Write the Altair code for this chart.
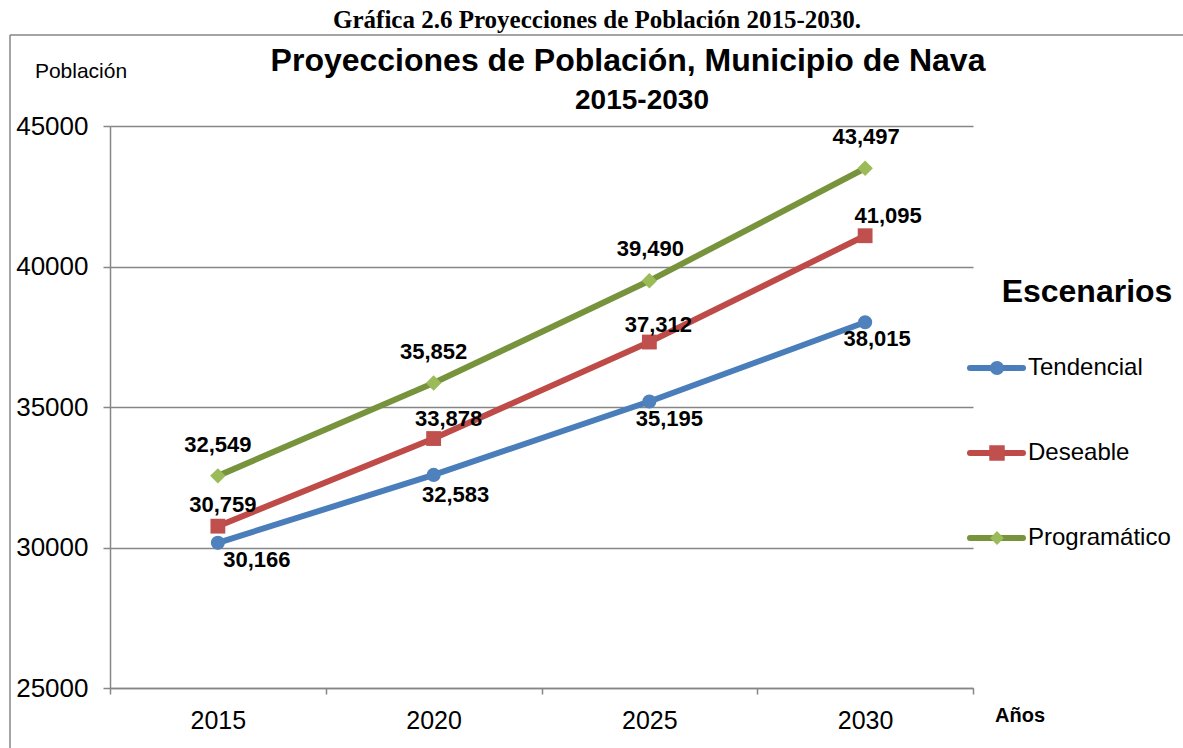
import altair as alt
import pandas as pd

# ---------------- data ----------------
years = ["2015", "2020", "2025", "2030"]
series_names = ["Tendencial", "Deseable", "Programático"]
tendencial = [30166, 32583, 35195, 38015]
deseable = [30759, 33878, 37312, 41095]
programatico = [32549, 35852, 39490, 43497]
y_ticks = [25000, 30000, 35000, 40000, 45000]

outer_title = "Gráfica 2.6 Proyecciones de Población 2015-2030."
chart_title = ["Proyecciones de Población, Municipio de Nava", "2015-2030"]
y_title = "Población"
x_title = "Años"
legend_title = "Escenarios"

# ---------------- layout / style ----------------
W, H = 863, 562          # plot area
OX, OY = 110, 126        # plot origin in page pixels
GRAY = "#868686"
SANS = "Liberation Sans"
SERIF = "Liberation Serif"
line_colors = ["#4A7EBB", "#BE4B48", "#77933C"]
marker_colors = ["#4F81BD", "#C0504D", "#9BBB59"]
marker_shapes = ["circle", "square", "diamond"]
marker_sizes = [200, 240, 190]
# per point label offsets (dx, dy) in pixels
label_offsets = [
    [(39, 17), (22, 20), (20, 17), (12, 17)],
    [(5, -21), (15, -20), (9, -17), (23, -20)],
    [(0, -31), (0, -31), (1, -32), (1, -31)],
]
legend_y = [368, 453, 538]


def px(x):
    return x - OX


def py(y):
    return y - OY


rows = []
for name, vals in zip(series_names, [tendencial, deseable, programatico]):
    for yr, v in zip(years, vals):
        rows.append({"year": yr, "series": name, "value": v})
df = pd.DataFrame(rows)

x_enc = alt.X(
    "year:O",
    scale=alt.Scale(type="band", domain=years, paddingInner=0, paddingOuter=0),
    axis=alt.Axis(
        title=None, labelAngle=0, labelFont=SANS, labelFontSize=25, labelColor="black",
        labelPadding=14, tickBand="extent", tickSize=6, tickColor=GRAY, tickWidth=1.5,
        domainColor=GRAY, domainWidth=1.5, grid=False,
    ),
)
y_enc = alt.Y(
    "value:Q",
    scale=alt.Scale(domain=[25000, 45000], nice=False, zero=False),
    axis=alt.Axis(
        title=None, values=y_ticks, format="d", labelFont=SANS, labelFontSize=26,
        labelColor="black", labelPadding=15, tickSize=7, tickColor=GRAY, tickWidth=1.5,
        domainColor=GRAY, domainWidth=1.5, grid=True, gridColor=GRAY, gridWidth=1.4,
    ),
)

base = alt.Chart(df)

lines = base.mark_line(strokeWidth=6, strokeJoin="round", strokeCap="butt").encode(
    x=x_enc, y=y_enc,
    color=alt.Color("series:N", scale=alt.Scale(domain=series_names, range=line_colors), legend=None),
    detail="series:N",
)

points = base.mark_point(filled=True, opacity=1).encode(
    x=x_enc, y=y_enc,
    fill=alt.Fill("series:N", scale=alt.Scale(domain=series_names, range=marker_colors), legend=None),
    shape=alt.Shape("series:N", scale=alt.Scale(domain=series_names, range=marker_shapes), legend=None),
    size=alt.Size("series:N", scale=alt.Scale(domain=series_names, range=marker_sizes), legend=None),
)

label_layers = []
for si, name in enumerate(series_names):
    for yi, yr in enumerate(years):
        dx, dy = label_offsets[si][yi]
        label_layers.append(
            base.transform_filter(
                (alt.datum.series == name) & (alt.datum.year == yr)
            ).mark_text(
                font=SANS, fontSize=22, fontWeight="bold", color="black",
                dx=dx, dy=dy, baseline="middle", align="center",
            ).encode(x=x_enc, y=y_enc, text=alt.Text("value:Q", format=","))
        )

one = pd.DataFrame({"k": [0]})


def text_at(txt, x, y, size, weight="normal", font=SANS, align="center", baseline="middle"):
    return alt.Chart(one).mark_text(
        text=txt, font=font, fontSize=size, fontWeight=weight, color="black",
        align=align, baseline=baseline,
    ).encode(x=alt.value(px(x)), y=alt.value(py(y)))


annotations = [
    text_at(outer_title, 597, 28, 25, "bold", SERIF, baseline="alphabetic"),
    text_at(chart_title[0], 628, 71, 32, "bold", baseline="alphabetic"),
    text_at(chart_title[1], 642, 109, 28, "bold", baseline="alphabetic"),
    text_at(y_title, 81, 72, 21),
    text_at(x_title, 1020, 716, 20, "bold"),
    text_at(legend_title, 1087, 292, 32, "bold"),
]

frame = [
    alt.Chart(one).mark_rule(color=GRAY, strokeWidth=1.5).encode(
        x=alt.value(px(10)), x2=alt.value(px(1183)), y=alt.value(py(35))
    ),
    alt.Chart(one).mark_rule(color=GRAY, strokeWidth=1.5).encode(
        x=alt.value(px(10)), y=alt.value(py(35)), y2=alt.value(py(748))
    ),
]

legend_layers = []
for i, name in enumerate(series_names):
    ly = legend_y[i]
    legend_layers.append(
        alt.Chart(one).mark_rule(color=line_colors[i], strokeWidth=6, strokeCap="round").encode(
            x=alt.value(px(970)), x2=alt.value(px(1023)), y=alt.value(py(ly))
        )
    )
    legend_layers.append(
        alt.Chart(one).mark_point(
            filled=True, opacity=1, shape=marker_shapes[i], size=marker_sizes[i],
            fill=marker_colors[i], color=marker_colors[i],
        ).encode(x=alt.value(px(997)), y=alt.value(py(ly)))
    )
    legend_layers.append(text_at(name, 1028, ly, 24, align="left"))

chart = alt.layer(
    *frame, lines, points, *label_layers, *annotations, *legend_layers
).properties(
    width=W, height=H,
    autosize=alt.AutoSizeParams(type="none"),
    padding={"left": OX, "top": OY, "right": 1183 - OX - W, "bottom": 748 - OY - H},
    background="white",
).configure_view(stroke=None)

chart.save("out.html", embed_options={"renderer": "svg", "actions": False})
